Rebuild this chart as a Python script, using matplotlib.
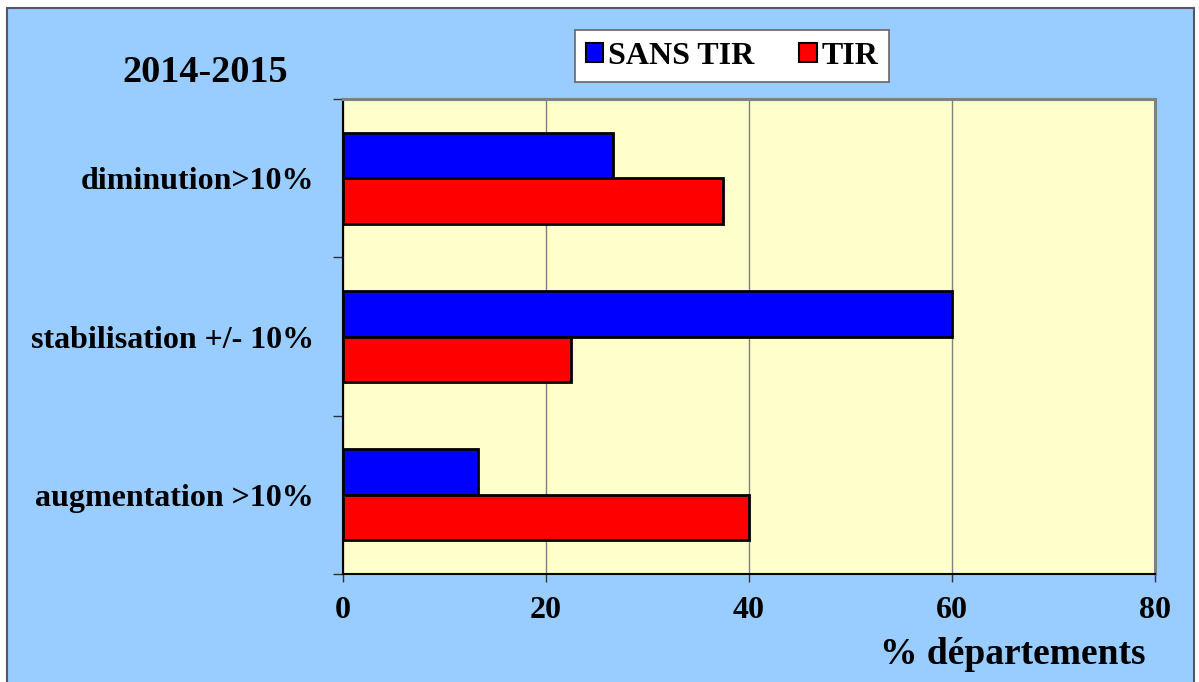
import matplotlib
matplotlib.use("Agg")
from matplotlib import pyplot as plt
from matplotlib.patches import Patch, Rectangle

# data (% of departements)
categories = ["augmentation >10%", "stabilisation +/- 10%", "diminution>10%"]
sansTir = [13.3, 60.0, 26.6]
tir = [40.0, 22.5, 37.4]
xTicks = [0, 20, 40, 60, 80]

bgColor = "#99CCFF"
plotColor = "#FFFFCC"
fontBold = {"family": "Liberation Serif", "weight": "bold"}

fig = plt.figure(figsize=(11.99, 6.82), dpi=100)
fig.set_facecolor("white")

# outer frame of the chart area (white strip above and at the sides)
fig.patches.append(
    Rectangle((7 / 1199, -10 / 682), 1187 / 1199, 684 / 682,
              transform=fig.transFigure, facecolor=bgColor,
              edgecolor="#555566", linewidth=1.5, zorder=-5)
)

ax = fig.add_axes([343 / 1199, 1 - 574 / 682, 812 / 1199, 475 / 682])
ax.set_zorder(2)
ax.set_facecolor(plotColor)

barH = 0.2875
ys = list(range(len(categories)))
ax.barh([y + barH / 2 for y in ys], sansTir, height=barH,
        color="#0000FF", edgecolor="black", linewidth=2, zorder=3)
ax.barh([y - barH / 2 for y in ys], tir, height=barH,
        color="#FF0000", edgecolor="black", linewidth=2, zorder=3)

ax.set_xlim(0, 80)
ax.set_ylim(-0.5, 2.5)
ax.set_xticks(xTicks)
ax.set_xticklabels([str(t) for t in xTicks], fontsize=23, **fontBold)
ax.set_yticks([-0.5, 0.5, 1.5, 2.5])
ax.set_yticklabels([])
ax.set_yticks(ys, minor=True)
ax.set_yticklabels(categories, minor=True, fontsize=23, **fontBold)
ax.tick_params(axis="y", which="minor", length=0, pad=21)
ax.tick_params(axis="y", which="major", length=7, direction="out", width=1, color="#333333")
ax.tick_params(axis="x", length=6, direction="out", width=1, color="#333333", pad=10)

ax.xaxis.grid(True, color="#808080", linewidth=1, zorder=0)
ax.set_axisbelow(True)
for side in ["top", "right"]:
    ax.spines[side].set_color("#808080")
    ax.spines[side].set_linewidth(2.2)
for side in ["left", "bottom"]:
    ax.spines[side].set_color("black")
    ax.spines[side].set_linewidth(1.5)

fig.text(1145 / 1199, 1 - 655 / 682, "% départements", ha="right", va="center",
         fontsize=27, **fontBold)
fig.text(205 / 1199, 1 - 72 / 682, "2014-2015", ha="center", va="center",
         fontsize=27.5, **fontBold)

handles = [
    Patch(facecolor="#0000FF", edgecolor="black", linewidth=1.5, label="SANS TIR"),
    Patch(facecolor="#FF0000", edgecolor="black", linewidth=1.5, label="TIR"),
]
leg = fig.legend(handles=handles, loc="center", ncol=2,
                 bbox_to_anchor=(732 / 1199, 1 - 56 / 682),
                 prop={"family": "Liberation Serif", "weight": "bold", "size": 23},
                 handlelength=0.55, handleheight=0.55, handletextpad=0.15,
                 columnspacing=1.4, fancybox=False, framealpha=1,
                 borderpad=0.35, borderaxespad=0, edgecolor="#666666")
leg.get_frame().set_linewidth(1.2)

fig.savefig("out.png", dpi=100, facecolor="white")
